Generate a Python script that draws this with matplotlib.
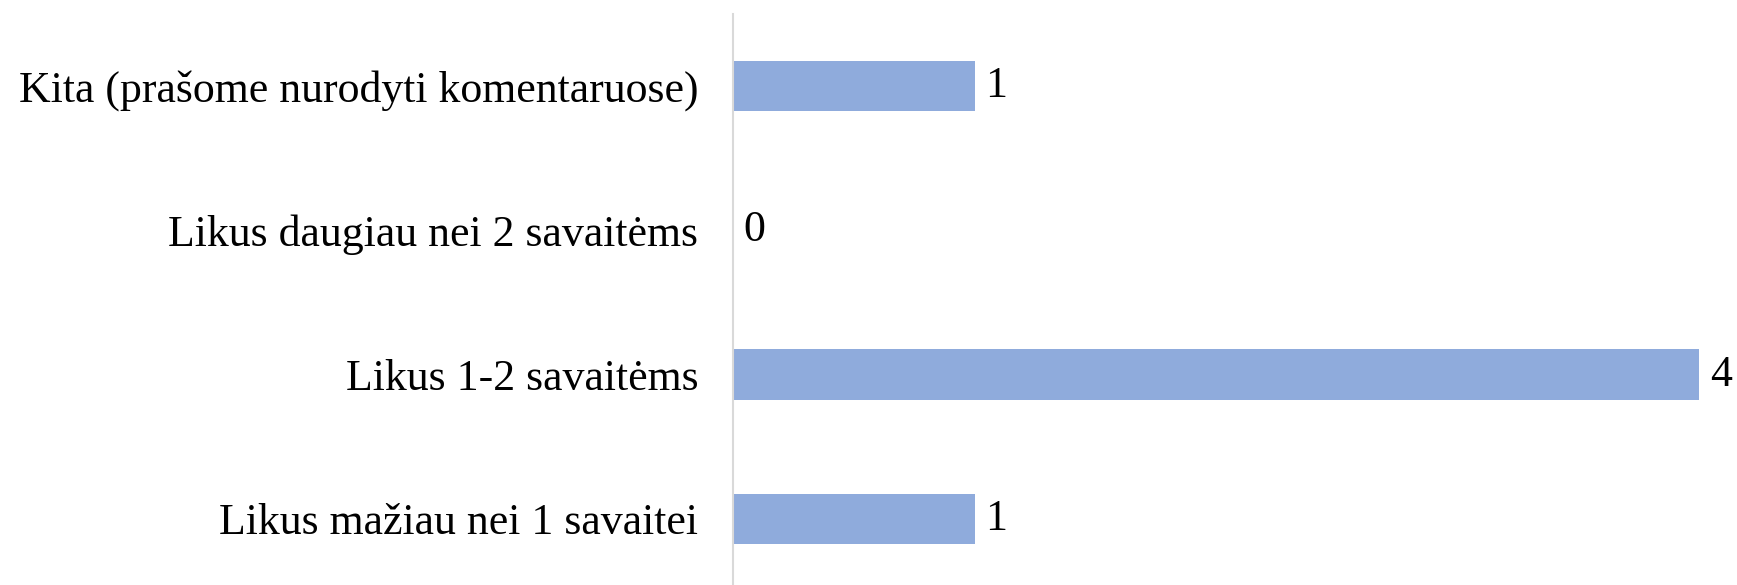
import matplotlib
matplotlib.use("Agg")
import matplotlib.pyplot as plt

categories = ["Likus mažiau nei 1 savaitei", "Likus 1-2 savaitėms",
              "Likus daugiau nei 2 savaitėms", "Kita (prašome nurodyti komentaruose)"]
values = [1, 4, 0, 1]

W, H = 1737, 585
fig = plt.figure(figsize=(W / 100, H / 100), dpi=100)
ax = fig.add_axes([733 / W, -6 / H, (W - 733) / W, 577 / H])

ypos = list(range(len(categories)))
ax.barh(ypos, values, height=0.35, color="#8FABDC", zorder=2)
ax.set_ylim(-0.5, 3.5)
ax.set_xlim(0, (W - 733) / 241.5)

for s in ["top", "right", "bottom"]:
    ax.spines[s].set_visible(False)
ax.spines["left"].set_color("#D9D9D9")
ax.spines["left"].set_linewidth(1.5)
ax.set_xticks([])
ax.set_yticks(ypos)
ax.set_yticklabels(categories, fontfamily="Liberation Serif", fontsize=31.6)
ax.tick_params(axis="y", length=0, pad=25)

for y, v in zip(ypos, values):
    ax.text(v + 0.045, y, str(v), va="center", ha="left",
            fontfamily="Liberation Serif", fontsize=31.6)

fig.savefig("out.png", dpi=100)
